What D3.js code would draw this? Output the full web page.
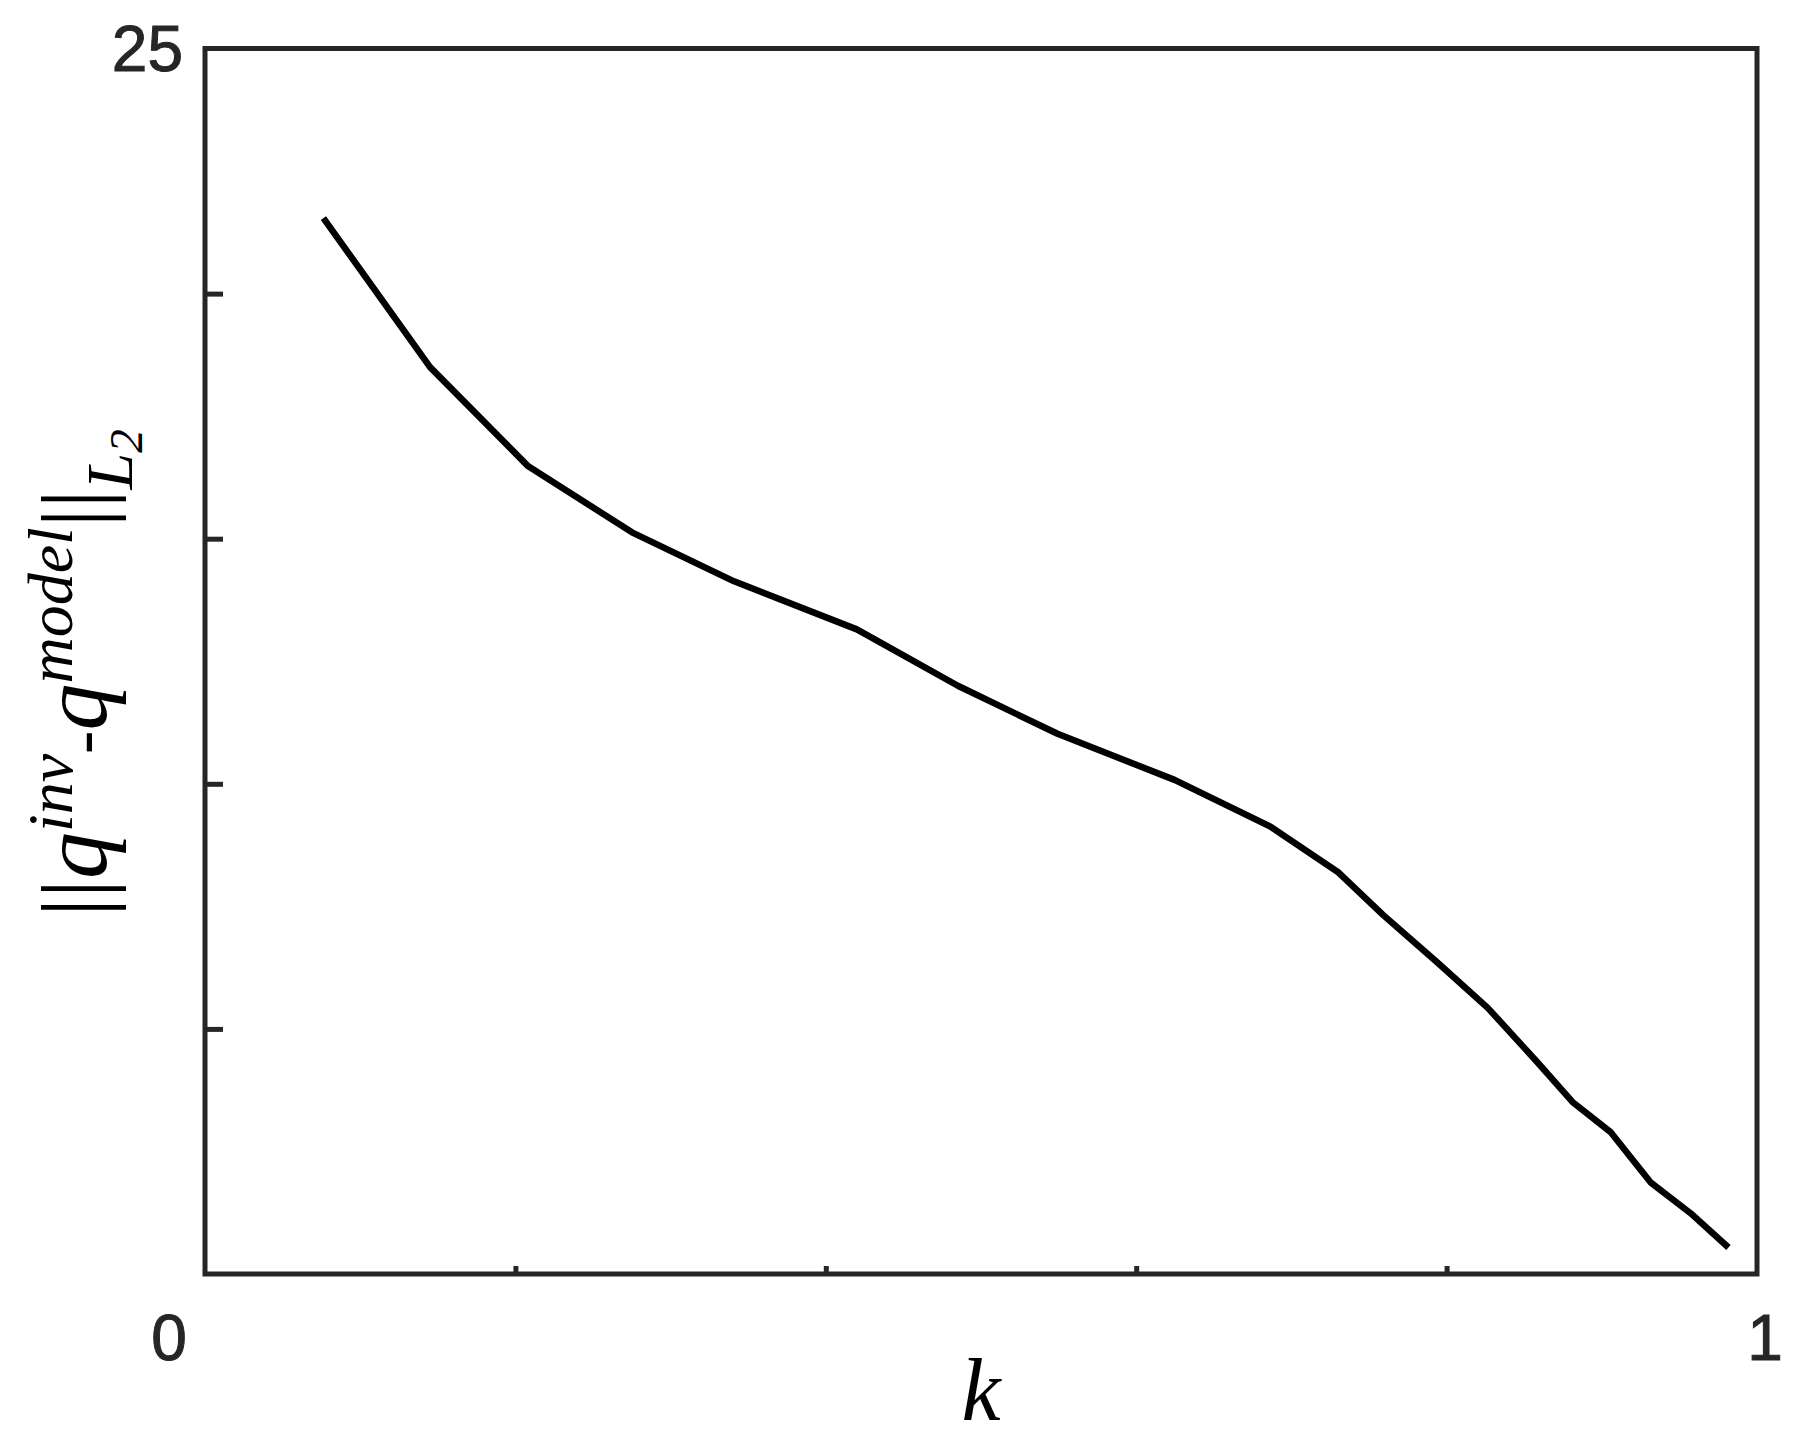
<!DOCTYPE html>
<html>
<head>
<meta charset="utf-8">
<script src="https://cdn.jsdelivr.net/npm/d3@7"></script>
<style>
  body { margin: 0; background: #fff; }
  svg { display: block; }
</style>
</head>
<body>
<svg id="chart"></svg>
<script>
// k values and error norm
const kValues = [0.0763, 0.1450, 0.2078, 0.2751, 0.3409, 0.4200, 0.4851, 0.5493, 0.6247, 0.6868,
                 0.7304, 0.7592, 0.7939, 0.8265, 0.8582, 0.8811, 0.9055, 0.9314, 0.9572, 0.9816];
const errValues = [21.54, 18.50, 16.49, 15.13, 14.13, 13.15, 12.00, 11.02, 10.08, 9.12,
                   8.19, 7.32, 6.36, 5.43, 4.33, 3.51, 2.90, 1.87, 1.24, 0.54];
const xTicks = [0, 0.2, 0.4, 0.6, 0.8, 1];
const yTicks = [0, 5, 10, 15, 20, 25];

const width = 1798;
const height = 1445;
const margin = { top: 48.5, right: 41, bottom: 171, left: 205 };
const axisColor = "#262626";

const svg = d3.select("#chart")
    .attr("width", width)
    .attr("height", height);

const xScale = d3.scaleLinear()
    .domain([0, 1])
    .range([margin.left, width - margin.right]);

const yScale = d3.scaleLinear()
    .domain([0, 25])
    .range([height - margin.bottom, margin.top]);

//Inward ticks, no labels (the corner labels are placed by hand below)
const xAxis = d3.axisBottom(xScale)
    .tickValues(xTicks.slice(1, -1))
    .tickSizeInner(-8)
    .tickSizeOuter(0)
    .tickFormat("");

const yAxis = d3.axisLeft(yScale)
    .tickValues(yTicks.slice(1, -1))
    .tickSizeInner(-18)
    .tickSizeOuter(0)
    .tickFormat("");

const gx = svg.append("g")
    .attr("transform", "translate(0," + yScale(0) + ")")
    .call(xAxis);

const gy = svg.append("g")
    .attr("transform", "translate(" + xScale(0) + ",0)")
    .call(yAxis);

[gx, gy].forEach(g => {
    g.select(".domain").remove();
    g.selectAll(".tick line")
        .attr("stroke", axisColor)
        .attr("stroke-width", 5);
});

//Data line
const line = d3.line()
    .x((d, i) => xScale(kValues[i]))
    .y(d => yScale(d));

svg.append("path")
    .datum(errValues)
    .attr("fill", "none")
    .attr("stroke", "#000")
    .attr("stroke-width", 6.5)
    .attr("stroke-linejoin", "round")
    .attr("d", line);

//Box around the plot
svg.append("rect")
    .attr("x", xScale(0))
    .attr("y", yScale(25))
    .attr("width", xScale(1) - xScale(0))
    .attr("height", yScale(0) - yScale(25))
    .attr("fill", "none")
    .attr("stroke", axisColor)
    .attr("stroke-width", 5);

//Tick labels at the corners
const tickFont = "'Liberation Sans', Arial, Helvetica, sans-serif";
const tickSize = 64;

const addTickLabel = (x, y, anchor, label) => {
    svg.append("text")
        .attr("x", x)
        .attr("y", y)
        .attr("dy", "0.35em")
        .attr("text-anchor", anchor)
        .style("font-family", tickFont)
        .style("font-size", tickSize + "px")
        .attr("fill", axisColor)
        .attr("stroke", axisColor)
        .attr("stroke-width", 1)
        .text(label);
};

addTickLabel(xScale(0) - 22, yScale(25), "end", yTicks[yTicks.length - 1]);
addTickLabel(xScale(0) - 36, yScale(0) + 64, "middle", xTicks[0]);
addTickLabel(xScale(1) + 8, yScale(0) + 64, "middle", xTicks[xTicks.length - 1]);

//Axis labels in a serif italic, like the LaTeX ones
const serif = "'Liberation Serif', 'DejaVu Serif', serif";

svg.append("text")
    .attr("x", (xScale(0) + xScale(1)) / 2)
    .attr("y", 1420)
    .attr("text-anchor", "middle")
    .style("font-family", serif)
    .style("font-style", "italic")
    .style("font-size", "88px")
    .attr("fill", "#000")
    .text("k");

const yLabel = svg.append("text")
    .attr("transform", "translate(106,673) rotate(-90)")
    .attr("text-anchor", "middle")
    .style("font-family", serif)
    .style("font-size", "94px")
    .attr("fill", "#000");

const parts = [
    { t: "||", size: 94, italic: false, dy: 0 },
    { t: "q", size: 94, italic: true, dy: 0 },
    { t: "inv", size: 64, italic: true, dy: -34 },
    { t: "-", size: 70, italic: false, dy: 34 },
    { t: "q", size: 94, italic: true, dy: 0 },
    { t: "model", size: 64, italic: true, dy: -34 },
    { t: "||", size: 94, italic: false, dy: 34 },
    { t: "L", size: 66, italic: true, dy: 26 },
    { t: "2", size: 47, italic: true, dy: 10 }
];

yLabel.selectAll("tspan")
    .data(parts)
    .enter()
    .append("tspan")
    .attr("dy", d => d.dy)
    .style("font-size", d => d.size + "px")
    .style("font-style", d => d.italic ? "italic" : "normal")
    .text(d => d.t);
</script>
</body>
</html>
